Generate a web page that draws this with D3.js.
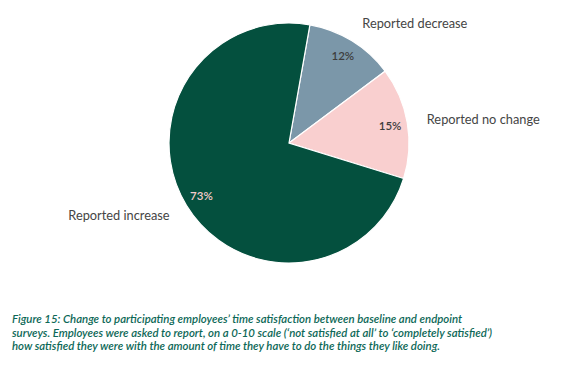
<!DOCTYPE html>
<html>
<head>
<meta charset="utf-8">
<script src="https://cdn.jsdelivr.net/npm/d3@7"></script>
<style>
  html, body { margin: 0; padding: 0; background: #fff; }
  svg { display: block; }
</style>
</head>
<body>
<div id="chartContainer"></div>
<script>
var categories = ["Reported decrease", "Reported no change", "Reported increase"];
var values = [12, 15, 73];
var pctLabels = ["12%", "15%", "73%"];
var captionLines = [
  "Figure 15: Change to participating employees\u2019 time satisfaction between baseline and endpoint",
  "surveys. Employees were asked to report, on a 0-10 scale (\u2018not satisfied at all\u2019 to \u2018completely satisfied\u2019)",
  "how satisfied they were with the amount of time they have to do the things they like doing."
];

var width = 576, height = 374;
var cx = 289, cy = 143, radius = 120;
var colors = ["#7b97a9", "#f9cfcf", "#04503e"];
var pctColors = ["#3d3d3d", "#3d3d3d", "#f4cccc"];

var svg = d3.select("#chartContainer")
  .append("svg")
  .attr("width", width)
  .attr("height", height);

var pie = d3.pie()
  .sort(null)
  .startAngle(0.175)
  .endAngle(0.175 + 2 * Math.PI)
  .value(function(d) { return d; });

var arcs = pie(values);

var arc = d3.arc().innerRadius(0).outerRadius(radius);

function polar(d, r) {
  var a = (d.startAngle + d.endAngle) / 2;
  return [Math.sin(a) * r, -Math.cos(a) * r];
}

var g = svg.append("g").attr("transform", "translate(" + cx + "," + cy + ")");

g.selectAll("path")
  .data(arcs)
  .enter()
  .append("path")
  .attr("d", arc)
  .attr("fill", function(d, i) { return colors[i]; })
  .attr("stroke", "#fff")
  .attr("stroke-width", 1.2);

// percentage labels inside the slices
g.selectAll("text.pct")
  .data(arcs)
  .enter()
  .append("text")
  .attr("class", "pct")
  .attr("transform", function(d) { return "translate(" + polar(d, radius * 0.855) + ")"; })
  .attr("text-anchor", "middle")
  .attr("dy", "0.35em")
  .attr("font-family", "Lato, sans-serif")
  .attr("font-size", 11.5)
  .attr("font-weight", 600)
  .attr("fill", function(d, i) { return pctColors[i]; })
  .text(function(d, i) { return pctLabels[i]; });

// category labels outside the pie
g.selectAll("text.cat")
  .data(arcs)
  .enter()
  .append("text")
  .attr("class", "cat")
  .attr("transform", function(d) { return "translate(" + polar(d, radius * 1.165) + ")"; })
  .attr("text-anchor", function(d) {
    return polar(d, 1)[0] >= 0 ? "start" : "end";
  })
  .attr("dy", "0.35em")
  .attr("font-family", "Lato, sans-serif")
  .attr("font-size", 12.8)
  .attr("fill", "#454545")
  .text(function(d, i) { return categories[i]; });

svg.append("g")
  .selectAll("text")
  .data(captionLines)
  .enter()
  .append("text")
  .attr("x", 12)
  .attr("y", function(d, i) { return 323 + i * 13.5; })
  .attr("font-family", "Lato, sans-serif")
  .attr("font-size", 11.4)
  .attr("font-style", "italic")
  .attr("font-weight", 600)
  .attr("fill", "#0d6857")
  .text(function(d) { return d; });
</script>
</body>
</html>
